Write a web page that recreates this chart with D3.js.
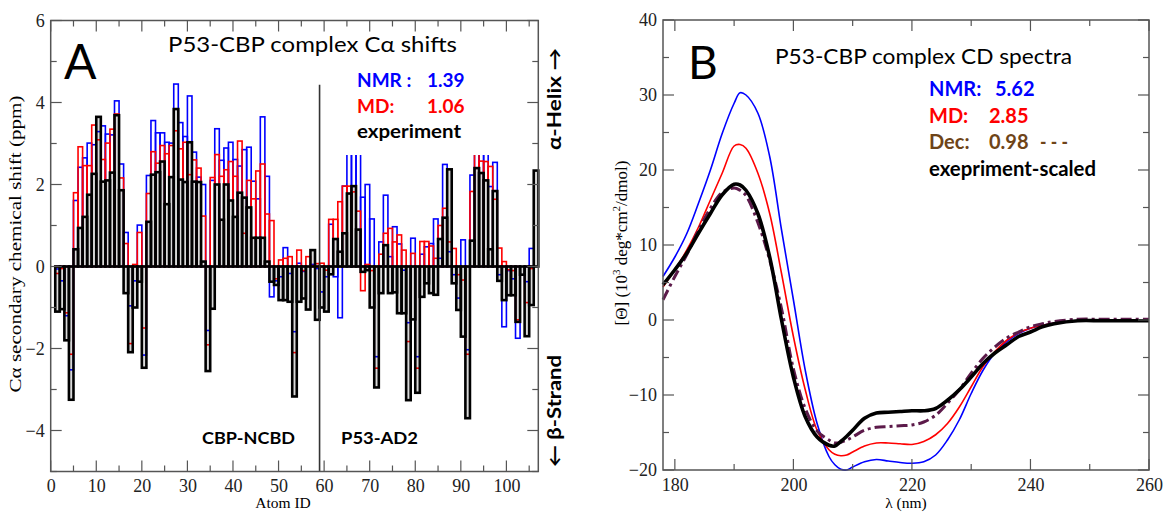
<!DOCTYPE html>
<html><head><meta charset="utf-8">
<script src="https://cdn.jsdelivr.net/npm/d3@7"></script>
<style>
body{margin:0;background:#fff;}
svg{display:block;}
.tk text{font-family:"Liberation Serif","DejaVu Serif",serif !important;}
</style></head>
<body><svg id="c" width="1164" height="513"></svg>
<script>
const SANS = "Lato, 'Open Sans', sans-serif";
const SERIF = "'Liberation Serif', 'DejaVu Serif', serif";
// ---------- Panel A data ----------
const atomIds = d3.range(1, 107);
const expShift = [-1.10,-1.04,-1.80,-3.25,0.42,0.94,1.21,1.75,2.26,3.65,
 2.07,2.10,2.29,3.69,1.86,-0.65,-2.09,-1.00,-0.37,-2.47,
 1.09,2.24,2.30,2.56,1.52,2.18,3.84,2.12,2.06,3.03,
 2.07,2.06,0.12,-2.55,-1.03,2.00,1.14,2.00,1.61,1.21,
 1.80,1.68,1.44,0.70,0.70,0.70,0.12,-0.37,-0.45,-0.82,
 -0.82,-0.86,-3.17,-0.86,-0.78,-1.05,0.40,-1.30,-1.00,-1.10,
 -0.19,0.67,0.36,0.81,1.78,1.96,0.90,-0.13,-0.09,-1.00,
 -2.95,-0.65,0.52,-0.65,-0.63,-1.14,-1.14,-3.26,-1.29,-3.08,
 -0.74,-0.41,-0.65,-0.69,0.67,1.19,2.37,-0.41,-1.06,-1.71,
 -3.70,0.63,2.40,2.28,2.10,0.42,1.84,-0.35,-0.82,-0.70,
 -0.70,-1.35,-0.20,-1.70,-0.94,2.34];
const mdShift = [-0.17,-0.05,-1.13,-2.14,1.80,2.92,2.46,2.46,3.45,3.09,
 2.61,3.01,3.35,3.72,2.16,0.56,-1.88,0.05,0.83,-1.50,
 1.78,2.80,2.52,2.95,2.75,2.95,3.31,2.87,3.03,2.24,
 2.60,2.40,1.23,-1.91,2.17,2.73,2.20,2.36,2.56,2.20,
 3.06,0.81,2.10,1.65,2.33,2.50,1.28,1.12,-0.30,0.16,
 0.20,0.24,-2.10,0.40,-0.10,0.24,0.02,0.07,0.08,-0.09,
 1.15,1.15,1.58,1.96,1.96,1.82,1.35,-0.59,0.05,-0.10,
 -2.48,0.30,0.81,0.93,0.60,0.77,0.40,-1.83,0.32,-2.48,
 0.61,0.61,0.50,0.20,1.00,1.42,0.60,0.44,-0.20,-0.33,
 -2.14,1.83,2.90,2.57,2.56,2.44,1.64,0.45,0.12,-0.08,
 -0.10,-1.30,0.00,-0.88,-0.05,0.00];
const nmrShift = [-0.06,-0.35,-1.20,-2.52,1.61,2.42,2.65,3.01,2.97,3.29,
 3.43,3.23,3.21,4.04,2.50,0.83,-0.96,-0.35,1.01,-2.16,
 2.22,3.56,3.26,3.26,3.03,3.01,4.45,3.51,3.17,4.16,
 2.79,2.18,2.00,-1.56,2.10,3.36,2.59,2.89,3.03,2.61,
 2.45,2.85,2.91,2.08,1.65,3.65,2.20,-0.74,-0.35,-0.25,
 0.46,-0.17,-1.59,0.08,-0.12,0.00,0.05,-0.05,-0.62,-0.25,
 1.03,-0.25,-1.25,1.96,3.20,3.30,3.00,1.69,2.00,1.16,
 -2.20,0.60,1.74,0.24,0.97,0.55,-0.09,-1.37,0.69,-2.20,
 0.30,0.48,0.56,1.16,0.20,2.49,0.36,-0.20,-0.77,0.65,
 -2.03,2.23,3.00,2.90,2.90,1.95,2.54,-0.20,-1.47,-0.10,
 -0.30,-1.75,0.00,-0.37,0.44,0.00];
const aXTicks = [0,10,20,30,40,50,60,70,80,90,100];
const aYTicks = [-4,-2,0,2,4,6];
const aLegend = [{t:"NMR :", v:"1.39", c:"#0000ff"},{t:"MD:", v:"1.06", c:"#ff0000"},{t:"experiment", v:"", c:"#000"}];

// ---------- Panel B data ----------
const lambda = [178,180,182,184,186,188,190,191,192,194,196,198,200,202,204,206,207,208,209,210,212,214,216,218,220,222,224,226,228,230,232,234,236,238,240,242,244,248,252,256,260];
const cdNMR = [5.8,8.4,11.5,15.6,20.0,24.9,28.9,30.3,30.0,27.6,21.8,12.0,2.7,-6.7,-13.8,-18.2,-19.3,-19.9,-20.0,-19.6,-18.9,-18.6,-18.8,-19.0,-19.1,-18.9,-18.0,-16.0,-13.3,-9.8,-6.7,-4.4,-2.9,-1.8,-1.1,-0.7,-0.4,-0.1,0.0,0.0,0.0];
const cdMD = [4.4,6.7,9.3,12.4,16.0,19.6,23.2,23.4,22.9,19.6,14.2,6.2,-2.2,-9.3,-14.7,-17.3,-17.9,-18.1,-18.0,-17.6,-16.8,-16.4,-16.4,-16.5,-16.6,-16.2,-15.3,-13.8,-11.6,-8.9,-6.2,-4.2,-2.7,-1.7,-1.1,-0.7,-0.4,-0.1,0.0,0.0,0.0];
const cdExp = [4.7,6.7,8.9,11.6,14.2,16.7,18.1,18.0,17.3,14.2,8.4,0.0,-7.6,-12.9,-15.6,-16.7,-16.8,-16.2,-15.5,-14.7,-13.1,-12.4,-12.3,-12.2,-12.1,-12.1,-11.8,-10.7,-9.3,-7.6,-5.8,-4.4,-3.3,-2.2,-1.6,-0.9,-0.5,-0.1,-0.1,-0.1,-0.1];
const cdDec = [2.7,5.8,8.7,12.0,14.9,17.0,17.6,17.3,16.6,13.0,8.0,1.5,-6.5,-11.8,-14.8,-16.0,-16.4,-16.3,-16.0,-15.6,-14.7,-14.3,-14.2,-14.1,-14.0,-13.6,-12.7,-11.1,-9.3,-7.1,-5.1,-3.6,-2.4,-1.6,-0.9,-0.5,-0.2,0.1,0.1,0.1,0.1];
const bXTicks = [180,200,220,240,260];
const bYTicks = [-20,-10,0,10,20,30,40];
const bLegend = [{t:"NMR:", v:"5.62", x:995, c:"#0000ff"},{t:"MD:", v:"2.85", x:989, c:"#ff0000"},{t:"Dec:", v:"0.98", x:989, c:"#6e4418"},{t:"exepriment-scaled", v:"", c:"#000"}];

const svg = d3.select("#c");
const axisCol = "#555";

function frame(g, x, y, xMaj, xMin, yMaj, yMin) {
  const [x0,x1] = x.range(), [y0,y1] = y.range();
  g.append("rect").attr("x",x0).attr("y",y1).attr("width",x1-x0).attr("height",y0-y1)
   .attr("fill","none").attr("stroke",axisCol).attr("stroke-width",1.5);
  const tk = g.append("g").attr("stroke",axisCol).attr("stroke-width",1.2);
  const tick = (vals, len, which) => vals.forEach(v => {
    if (which==="x") {
      tk.append("line").attr("x1",x(v)).attr("x2",x(v)).attr("y1",y0).attr("y2",y0-len);
      tk.append("line").attr("x1",x(v)).attr("x2",x(v)).attr("y1",y1).attr("y2",y1+len);
    } else {
      tk.append("line").attr("y1",y(v)).attr("y2",y(v)).attr("x1",x0).attr("x2",x0+len);
      tk.append("line").attr("y1",y(v)).attr("y2",y(v)).attr("x1",x1).attr("x2",x1-len);
    }
  });
  tick(xMaj,11,"x"); tick(xMin,6,"x"); tick(yMaj,11,"y"); tick(yMin,6,"y");
  const ax = g.append("g").attr("class","tk").attr("transform",`translate(0,${y0})`)
    .call(d3.axisBottom(x).tickValues(xMaj).tickSize(0).tickPadding(8));
  ax.attr("font-family",SERIF).attr("font-size",18);
  ax.select(".domain").remove();
  ax.selectAll("text").attr("fill","#222").style("font-family",SERIF);
  const ay = g.append("g").attr("class","tk").attr("transform",`translate(${x0},0)`)
    .call(d3.axisLeft(y).tickValues(yMaj).tickSize(0).tickPadding(6));
  ay.attr("font-family",SERIF).attr("font-size",18);
  ay.select(".domain").remove();
  ay.selectAll("text").attr("fill","#222").style("font-family",SERIF);
}
const txt = (g, x, y, s, size, opts={}) => {
  const t = g.append("text").attr("x",x).attr("y",y).attr("font-size",size)
    .attr("fill",opts.fill||"#000").style("font-family",opts.serif?SERIF:SANS).text(s);
  if (opts.bold) t.attr("font-weight","bold");
  if (opts.anchor) t.attr("text-anchor",opts.anchor);
  if (opts.len) t.attr("textLength",opts.len).attr("lengthAdjust","spacingAndGlyphs");
  if (opts.tr) t.attr("transform",opts.tr);
  return t;
};

// ================= Panel A =================
const xA = d3.scaleLinear().domain([0,107]).range([50.7,538.3]);
const yA = d3.scaleLinear().domain([-5,6]).range([471.5,20.5]);
const gA = svg.append("g");
const barRect = (sel) => sel.attr("x", (d,i)=>xA(atomIds[i]))
   .attr("width", (d,i)=>xA(atomIds[i]+1)-xA(atomIds[i]))
   .attr("y", d=>yA(Math.max(0,d))).attr("height", d=>Math.abs(yA(d)-yA(0)));
gA.append("g").selectAll("rect").data(expShift).join("rect").call(barRect)
  .attr("fill","#d9d9d9").attr("stroke","none");
gA.append("g").selectAll("rect").data(nmrShift).join("rect").call(barRect)
  .attr("fill","none").attr("stroke","#0000ff").attr("stroke-width",1.6);
gA.append("g").selectAll("rect").data(mdShift).join("rect").call(barRect)
  .attr("fill","none").attr("stroke","#ff0000").attr("stroke-width",1.6);
gA.append("g").selectAll("rect").data(expShift).join("rect").call(barRect)
  .attr("fill","none").attr("stroke","#000").attr("stroke-width",2.6);
gA.append("rect").attr("x",340).attr("y",62).attr("width",150).attr("height",93).attr("fill","#fff");
gA.append("line").attr("x1",xA(59)).attr("x2",xA(59)).attr("y1",yA(4.43)).attr("y2",yA(-5))
  .attr("stroke","#333").attr("stroke-width",1.6);
frame(gA, xA, yA, aXTicks, [5,15,25,35,45,55,65,75,85,95,105], aYTicks, [-5,-3,-1,1,3,5]);
txt(gA, 64, 79, "A", 48);
txt(gA, 168, 52, "P53-CBP complex Cα shifts", 21, {len:289});
aLegend.forEach((l,i)=>{
  txt(gA, 357, 87+i*25.5, l.t, 19, {bold:true, fill:l.c, len: l.v ? null : 104});
  if (l.v) txt(gA, 427, 87+i*25.5, l.v, 19, {bold:true, fill:l.c});
});
txt(gA, 202, 444, "CBP-NCBD", 17.5, {bold:true, len:93});
txt(gA, 341, 444, "P53-AD2", 17.5, {bold:true, len:77});
txt(gA, 283, 508, "Atom ID", 15.5, {serif:true, anchor:"middle"});
txt(gA, 0, 0, "Cα secondary chemical shift (ppm)", 17, {serif:true, anchor:"middle", len:297, tr:"translate(21,244) rotate(-90)"});
txt(gA, 0, 0, "α-Helix →", 18, {bold:true, anchor:"middle", len:102, tr:"translate(561,99) rotate(-90)"});
txt(gA, 0, 0, "← β-Strand", 18, {bold:true, anchor:"middle", len:112, tr:"translate(561,411) rotate(-90)"});

// ================= Panel B =================
const xB = d3.scaleLinear().domain([178,260]).range([663,1149]);
const yB = d3.scaleLinear().domain([-20,40]).range([470,20]);
const gB = svg.append("g");
const line = (vals) => d3.line().x((d,i)=>xB(lambda[i])).y(d=>yB(d)).curve(d3.curveCatmullRom)(vals);
gB.append("path").attr("d",line(cdNMR)).attr("fill","none").attr("stroke","#0000ff").attr("stroke-width",1.6);
gB.append("path").attr("d",line(cdMD)).attr("fill","none").attr("stroke","#ff0000").attr("stroke-width",1.6);
gB.append("path").attr("d",line(cdDec)).attr("fill","none").attr("stroke","#5c1a4a").attr("stroke-width",3)
  .attr("stroke-dasharray","11,4,3,4");
gB.append("path").attr("d",line(cdExp)).attr("fill","none").attr("stroke","#000").attr("stroke-width",3.6);
frame(gB, xB, yB, bXTicks, [190,210,230,250], bYTicks, [-15,-5,5,15,25,35]);
txt(gB, 688, 79, "B", 46);
txt(gB, 775, 64, "P53-CBP complex CD spectra", 21, {len:297});
bLegend.forEach((l,i)=>{
  txt(gB, 929, 96+i*26.5, l.t, 20, {bold:true, fill:l.c, len: l.v ? null : 167});
  if (l.v) txt(gB, l.x, 96+i*26.5, l.v, 20, {bold:true, fill:l.c});
});
txt(gB, 1040, 149, "- - -", 20, {bold:true, fill:"#6e4418", len:28});
txt(gB, 906, 508, "λ (nm)", 15.5, {serif:true, anchor:"middle"});
const yl = txt(gB, 0, 0, "", 17, {serif:true, anchor:"middle", tr:"translate(627,243) rotate(-90)"});
yl.append("tspan").text("[Θ] (10");
yl.append("tspan").attr("dy",-7).attr("font-size",11).text("3");
yl.append("tspan").attr("dy",7).text(" deg*cm");
yl.append("tspan").attr("dy",-7).attr("font-size",11).text("2");
yl.append("tspan").attr("dy",7).text("/dmol)");
</script></body></html>
